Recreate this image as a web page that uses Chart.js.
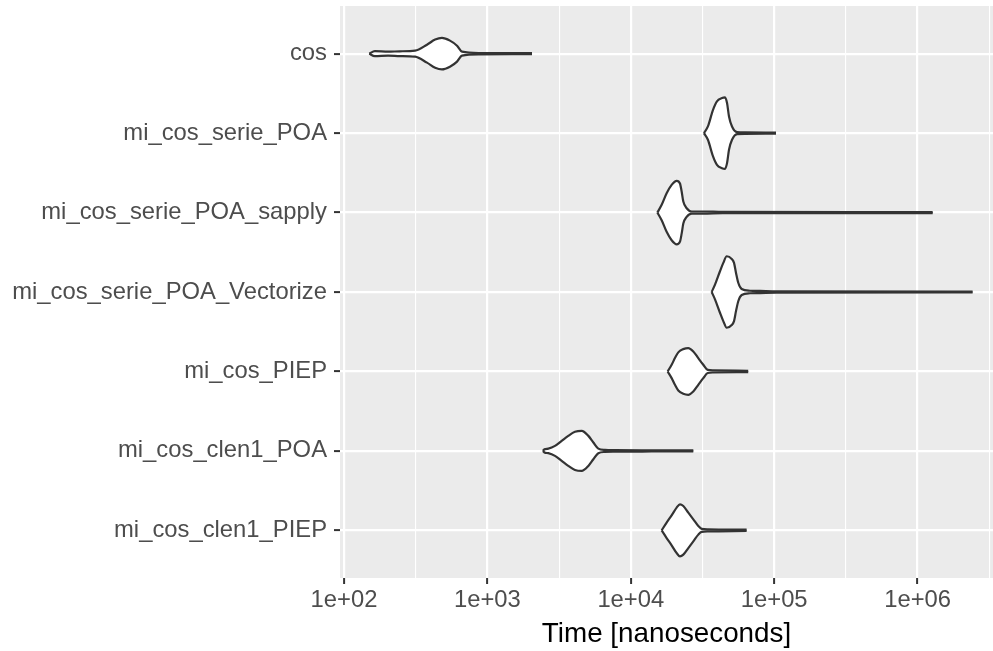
<!DOCTYPE html>
<html>
<head>
<meta charset="utf-8">
<script src="https://cdn.jsdelivr.net/npm/chart.js@4/dist/chart.umd.min.js"></script>
<style>
  html, body { margin: 0; padding: 0; background: #fff; }
  canvas { display: block; }
</style>
</head>
<body>
<canvas id="violinChart" width="993" height="651"></canvas>
<script>
// categories, top to bottom
const categories = ['cos', 'mi_cos_serie_POA', 'mi_cos_serie_POA_sapply', 'mi_cos_serie_POA_Vectorize',
  'mi_cos_PIEP', 'mi_cos_clen1_POA', 'mi_cos_clen1_PIEP'];

// x tick labels (log10 decades)
const xTickValues = [1e2, 1e3, 1e4, 1e5, 1e6];
const xTickLabels = ['1e+02', '1e+03', '1e+04', '1e+05', '1e+06'];

// violin outlines: time (ns) and half width (category units)
const cosTime = [150, 164, 203, 245, 313, 379, 432, 482, 548, 614, 665, 887, 2046];
const cosWidth = [0, 0.032, 0.025, 0.03, 0.038, 0.113, 0.177, 0.198, 0.164, 0.10, 0.025, 0.008, 0.006];

const seriePoaTime = [32370, 34500, 37400, 39900, 43250, 45400, 46900, 48400, 50800, 55100, 62600, 103000];
const seriePoaWidth = [0, 0.084, 0.29, 0.40, 0.441, 0.45, 0.378, 0.21, 0.084, 0.013, 0.009, 0.006];

const sapplyTime = [15310, 16420, 17780, 19270, 20890, 22030, 22630, 23240, 24530, 26590, 31870, 43940, 1274000];
const sapplyWidth = [0, 0.097, 0.243, 0.349, 0.40, 0.366, 0.265, 0.139, 0.054, 0.013, 0.013, 0.008, 0.006];

const vectorizeTime = [36640, 38650, 41880, 44170, 46670, 50560, 52460, 54170, 56240, 59330, 67790, 79610, 104000, 2420000];
const vectorizeWidth = [0, 0.092, 0.261, 0.366, 0.45, 0.416, 0.366, 0.24, 0.113, 0.038, 0.016, 0.013, 0.008, 0.006];

const piepTime = [18070, 19270, 20320, 21440, 23230, 25170, 27270, 29550, 32030, 34390, 37600, 65900];
const piepWidth = [0, 0.084, 0.168, 0.24, 0.281, 0.294, 0.252, 0.168, 0.084, 0.019, 0.013, 0.008];

const clenPoaTime = [2440, 2500, 2660, 2960, 3296, 3665, 4081, 4545, 5058, 5482, 5934, 6607, 7762, 13990, 27290];
const clenPoaWidth = [0, 0.02, 0.029, 0.063, 0.126, 0.189, 0.24, 0.252, 0.189, 0.105, 0.029, 0.013, 0.01, 0.008, 0.006];

const clenPiepTime = [16410, 17780, 19270, 20880, 22030, 23240, 25180, 27290, 29570, 31210, 34670, 64240];
const clenPiepWidth = [0, 0.097, 0.189, 0.286, 0.328, 0.306, 0.223, 0.139, 0.054, 0.019, 0.013, 0.008];

const violinTimes = [cosTime, seriePoaTime, sapplyTime, vectorizeTime, piepTime, clenPoaTime, clenPiepTime];
const violinWidths = [cosWidth, seriePoaWidth, sapplyWidth, vectorizeWidth, piepWidth, clenPoaWidth, clenPiepWidth];

// build two edges per violin, lower edge fills up to the upper one
const datasets = [];
violinTimes.forEach((times, i) => {
  const c = i + 1;
  const w = violinWidths[i];
  const common = {
    showLine: true,
    borderColor: '#333333',
    borderWidth: 2.2,
    pointRadius: 0,
    pointHoverRadius: 0,
    cubicInterpolationMode: 'monotone',
    backgroundColor: '#ffffff'
  };
  datasets.push(Object.assign({}, common, {
    label: categories[i] + ' upper',
    data: times.map((t, j) => ({ x: t, y: c - w[j] })),
    fill: false
  }));
  datasets.push(Object.assign({}, common, {
    label: categories[i] + ' lower',
    data: times.map((t, j) => ({ x: t, y: c + w[j] })),
    fill: '-1'
  }));
});

const isMajor = v => Math.abs(Math.log10(v) - Math.round(Math.log10(v))) < 1e-6;

// panel background like ggplot's grey theme
const panelBg = {
  id: 'panelBg',
  beforeDraw(chart) {
    const { ctx, chartArea: a } = chart;
    ctx.save();
    ctx.fillStyle = '#ffffff';
    ctx.fillRect(0, 0, chart.width, chart.height);
    ctx.fillStyle = '#EBEBEB';
    ctx.fillRect(a.left, a.top, a.right - a.left, a.bottom - a.top);
    ctx.restore();
  }
};

const tickFont = { family: '"Liberation Sans", Arial, sans-serif', size: 23.8 };

const config = {
  type: 'scatter',
  data: { datasets: datasets },
  options: {
    responsive: false,
    animation: false,
    events: [],
    layout: { padding: { top: 6, right: 0, left: 0, bottom: 0 } },
    plugins: { legend: { display: false }, tooltip: { enabled: false } },
    scales: {
      x: {
        type: 'logarithmic',
        min: Math.pow(10, 1.972),
        max: Math.pow(10, 6.526),
        afterBuildTicks: scale => {
          const vals = [];
          xTickValues.forEach(v => { vals.push(v); vals.push(v * Math.sqrt(10)); });
          scale.ticks = vals.filter(v => v <= scale.max).map(v => ({ value: v }));
        },
        afterFit: scale => {
          scale.height = 73;
          scale.paddingLeft = 0;
          scale.paddingRight = 0;
        },
        border: { display: false },
        grid: {
          color: '#ffffff',
          lineWidth: ctx => (ctx.tick && isMajor(ctx.tick.value)) ? 2.2 : 1.1,
          tickColor: ctx => (ctx.tick && isMajor(ctx.tick.value)) ? '#333333' : 'rgba(0,0,0,0)',
          tickWidth: 2,
          tickLength: 6,
          drawTicks: true
        },
        ticks: {
          autoSkip: false,
          maxRotation: 0,
          padding: 2,
          color: '#4D4D4D',
          font: tickFont,
          callback: v => {
            const k = xTickValues.findIndex(t => Math.abs(t - v) / t < 1e-6);
            return k >= 0 ? xTickLabels[k] : '';
          }
        },
        title: {
          display: true,
          text: 'Time [nanoseconds]',
          color: '#000000',
          font: { family: '"Liberation Sans", Arial, sans-serif', size: 27.8 },
          padding: { top: 0, bottom: 0 }
        }
      },
      y: {
        type: 'linear',
        reverse: true,
        min: 0.4,
        max: 7.6,
        afterBuildTicks: scale => {
          scale.ticks = categories.map((c, i) => ({ value: i + 1 }));
        },
        afterFit: scale => {
          scale.width = 340;
          scale.paddingTop = 0;
          scale.paddingBottom = 0;
        },
        border: { display: false },
        grid: {
          color: '#ffffff',
          lineWidth: 2.2,
          tickColor: '#333333',
          tickWidth: 2,
          tickLength: 6
        },
        ticks: {
          autoSkip: false,
          padding: 7,
          color: '#4D4D4D',
          font: tickFont,
          callback: v => categories[Math.round(v) - 1] || ''
        }
      }
    }
  },
  plugins: [panelBg]
};

const myChart = new Chart(document.getElementById('violinChart').getContext('2d'), config);
</script>
</body>
</html>
